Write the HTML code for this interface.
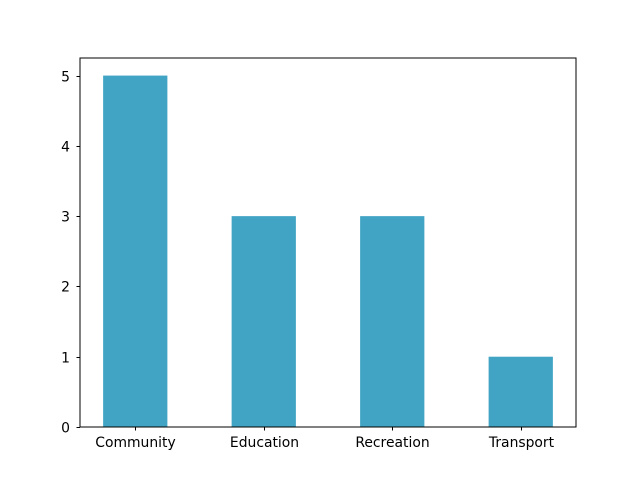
<!DOCTYPE html>
<html><head><meta charset="utf-8"><style>body{margin:0;background:#fff}svg{display:block}text{font-family:"DejaVu Sans","Liberation Sans",sans-serif;font-size:13.9px;fill:#000}</style></head>
<body>
<svg id="chart" width="640" height="480">
<rect x="0" y="0" width="640" height="480" fill="#fff"/>
<g id="bars"></g><g id="axes"></g>
</svg>
<script>
const categories = ["Community","Education","Recreation","Transport"];
const values = [5,3,3,1];
const yTicks = [0,1,2,3,4,5];
const L=80,R=576,T=58,B=427,ymax=5.25,xmin=-0.43,xmax=3.43;
const ns="http://www.w3.org/2000/svg";
const X=v=>L+(v-xmin)/(xmax-xmin)*(R-L);
const Y=v=>B-v/ymax*(B-T);
const bars=document.getElementById('bars'),axes=document.getElementById('axes');
function mk(tag,attrs,parent){const e=document.createElementNS(ns,tag);for(const k in attrs)e.setAttribute(k,attrs[k]);parent.appendChild(e);return e;}
values.forEach((v,i)=>{
 const r=mk('rect',{x:X(i-0.25),y:Y(v),width:X(i+0.25)-X(i-0.25),height:Y(0)-Y(v),fill:'#41a4c4'},bars);
 
 
});
const f=mk('rect',{x:L,y:T,width:R-L,height:B-T,fill:'none',stroke:'#000','stroke-width':1},axes);


yTicks.forEach(t=>{
 const y=Math.round(Y(t))+0.5;
 mk('line',{x1:L-3.5,x2:L,y1:y,y2:y,stroke:'#000'},axes);
 const tx=mk('text',{x:L-10,y:y+5,'text-anchor':'end'},axes);tx.textContent=t;
 
 
});
categories.forEach((c,i)=>{
 const x=Math.round(X(i))+0.5;
 mk('line',{x1:x,x2:x,y1:B,y2:B+3.5,stroke:'#000'},axes);
 const tx=mk('text',{x:x,y:B+20,'text-anchor':'middle'},axes);tx.textContent=c;
 
 
});
</script>
</body></html>
